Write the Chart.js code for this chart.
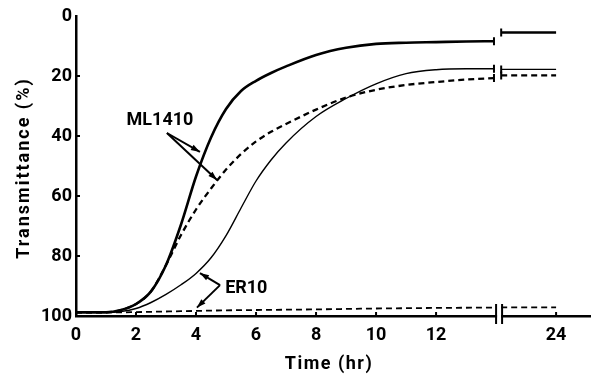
<!DOCTYPE html>
<html>
<head>
<meta charset="utf-8">
<script src="https://cdn.jsdelivr.net/npm/chart.js@4/dist/chart.umd.min.js"></script>
<style>
  html, body { margin: 0; padding: 0; background: #fff; }
  #wrap { width: 591px; height: 377px; }
</style>
</head>
<body>
<div id="wrap"><canvas id="chart" width="591" height="377"></canvas></div>
<script>
// thời gian (giờ) trước chỗ ngắt trục
const hours = [0, 1, 1.5, 2, 2.5, 3, 3.5, 4, 4.5, 5, 5.5, 6, 6.5, 7, 8, 9, 10, 11, 12, 13, 13.93];
// sau chỗ ngắt: 16 trên trục tương ứng 24 giờ
const hoursAfter = [14.17, 16];
const breakAt = 14.05;

const xTicks = [0, 2, 4, 6, 8, 10, 12, 16];
const xTickLabels = ['0', '2', '4', '6', '8', '10', '12', '24'];
const yTicks = [0, 20, 40, 60, 80, 100];

// Transmittance (%)
const mlSolid = [98.8, 98.8, 98, 96, 91.8, 83, 69.5, 53.5, 40.5, 31, 25, 21.6, 19, 16.8, 13, 10.6, 9.3, 8.9, 8.7, 8.5, 8.4];
const mlSolidAfter = [5.5, 5.5];
const mlDashed = [98.8, 98.8, 98, 96, 91.8, 83, 73, 64.5, 57.5, 51.2, 46, 41.8, 38.6, 36, 31.2, 27.2, 24.6, 23, 22, 21.2, 20.7];
const mlDashedAfter = [19.8, 19.8];
const erSolid = [98.8, 98.8, 98.5, 97.5, 95.5, 92.8, 89.6, 85.8, 80.6, 73.2, 64, 55, 48, 42.3, 33.5, 27.5, 22.6, 19.2, 17.9, 17.6, 17.6];
const erSolidAfter = [17.8, 17.8];
const erDashed = [98.8, 98.8, 98.8, 98.7, 98.6, 98.5, 98.4, 98.3, 98.2, 98.1, 98.05, 98, 97.95, 97.9, 97.8, 97.65, 97.5, 97.4, 97.3, 97.25, 97.2];
const erDashedAfter = [97.1, 97.1];

function toPoints(before, after) {
    const pts = hours.map((h, i) => ({ x: h, y: before[i] }));
    pts.push({ x: breakAt, y: null });
    hoursAfter.forEach((h, i) => pts.push({ x: h, y: after[i] }));
    return pts;
}

const FONT = 'Roboto, "DejaVu Sans", sans-serif';

function arrow(ctx, x1, y1, x2, y2) {
    ctx.beginPath();
    ctx.moveTo(x1, y1);
    ctx.lineTo(x2, y2);
    ctx.stroke();
    const a = Math.atan2(y2 - y1, x2 - x1);
    ctx.beginPath();
    ctx.moveTo(x2, y2);
    ctx.lineTo(x2 - 9 * Math.cos(a) + 3 * Math.sin(a), y2 - 9 * Math.sin(a) - 3 * Math.cos(a));
    ctx.lineTo(x2 - 9 * Math.cos(a) - 3 * Math.sin(a), y2 - 9 * Math.sin(a) + 3 * Math.cos(a));
    ctx.closePath();
    ctx.fill();
}

// vẽ vạch chia, chỗ ngắt trục, tiêu đề trục và chú thích
const decorations = {
    id: 'decorations',
    afterDraw(chart) {
        const ctx = chart.ctx;
        const xs = chart.scales.x, ys = chart.scales.y;
        const px = v => xs.getPixelForValue(v);
        const py = v => ys.getPixelForValue(v);
        const area = chart.chartArea;
        ctx.save();
        ctx.strokeStyle = '#000';
        ctx.fillStyle = '#000';

        // vạch chia hướng vào trong
        ctx.lineWidth = 2;
        yTicks.slice(1, 5).forEach(v => {
            ctx.beginPath();
            ctx.moveTo(area.left, py(v));
            ctx.lineTo(area.left + 4, py(v));
            ctx.stroke();
        });
        xTicks.slice(1).forEach(v => {
            ctx.beginPath();
            ctx.moveTo(px(v), area.bottom);
            ctx.lineTo(px(v), area.bottom - 4);
            ctx.stroke();
        });

        // chỗ ngắt trục x
        const b1 = px(14.0), b2 = px(14.2);
        ctx.fillStyle = '#fff';
        ctx.fillRect(b1 + 1, area.bottom - 11, b2 - b1 - 2, 20);
        ctx.fillStyle = '#000';
        ctx.lineWidth = 2;
        [b1, b2].forEach(x => {
            ctx.beginPath();
            ctx.moveTo(x, area.bottom - 12);
            ctx.lineTo(x, area.bottom + 8);
            ctx.stroke();
        });

        // vạch ở đầu mút các đường cong tại chỗ ngắt
        const ends = [[mlSolid, mlSolidAfter], [mlDashed, mlDashedAfter], [erSolid, erSolidAfter]];
        ctx.lineWidth = 2;
        ends.forEach(([before, after]) => {
            const yb = py(before[before.length - 1]);
            const ya = py(after[0]);
            const xb = px(hours[hours.length - 1]);
            const xa = px(hoursAfter[0]);
            ctx.beginPath();
            ctx.moveTo(xb, yb - 4); ctx.lineTo(xb, yb + 4);
            ctx.moveTo(xa, ya - 4); ctx.lineTo(xa, ya + 4);
            ctx.stroke();
        });

        // tiêu đề trục
        ctx.font = 'bold 18px ' + FONT;
        ctx.textAlign = 'center';
        ctx.textBaseline = 'middle';
        ctx.letterSpacing = '1.5px';
        ctx.fillText('Time (hr)', 329, 364);
        ctx.save();
        ctx.translate(24, 168);
        ctx.rotate(-Math.PI / 2);
        ctx.letterSpacing = '2px';
        ctx.fillText('Transmittance (%)', 0, 0);
        ctx.restore();
        ctx.letterSpacing = '0px';

        // chú thích ML1410
        ctx.font = 'bold 18px ' + FONT;
        ctx.fillText('ML1410', px(2.8), py(34.8));
        ctx.lineWidth = 2;
        const mx = px(3.03), my = py(39);
        arrow(ctx, mx, my, px(4.13), py(45.3));
        arrow(ctx, mx, my, px(4.7), py(54.7));

        // chú thích ER10
        ctx.textAlign = 'left';
        ctx.fillText('ER10', px(4.97), py(90.7));
        const ex = px(4.8), ey = py(89.7);
        arrow(ctx, ex, ey, px(4.13), py(85.7));
        arrow(ctx, ex, ey, px(4.03), py(97.2));

        ctx.restore();
    }
};

const tickFont = { family: FONT, size: 18, weight: 'bold' };

new Chart(document.getElementById('chart'), {
    type: 'line',
    data: {
        datasets: [{
            label: 'ML1410',
            data: toPoints(mlSolid, mlSolidAfter),
            borderColor: '#000',
            borderWidth: 2.6
        }, {
            label: 'ML1410 (dashed)',
            data: toPoints(mlDashed, mlDashedAfter),
            borderColor: '#000',
            borderWidth: 2.3,
            borderDash: [6, 4]
        }, {
            label: 'ER10',
            data: toPoints(erSolid, erSolidAfter),
            borderColor: '#000',
            borderWidth: 1.4
        }, {
            label: 'ER10 (dashed)',
            data: toPoints(erDashed, erDashedAfter),
            borderColor: '#000',
            borderWidth: 1.8,
            borderDash: [6, 4]
        }]
    },
    options: {
        responsive: false,
        animation: false,
        devicePixelRatio: 1,
        spanGaps: false,
        elements: {
            point: { radius: 0 },
            line: { cubicInterpolationMode: 'monotone', fill: false }
        },
        layout: { padding: { top: 16, right: 1, left: 0, bottom: 0 } },
        plugins: {
            legend: { display: false },
            tooltip: { enabled: false }
        },
        scales: {
            x: {
                type: 'linear',
                min: 0,
                max: 17.13,
                afterBuildTicks: s => { s.ticks = xTicks.map(v => ({ value: v })); },
                afterFit: s => { s.height = 61; },
                grid: { display: false, drawTicks: false },
                border: { display: true, color: '#000', width: 2.5 },
                ticks: {
                    autoSkip: false,
                    maxRotation: 0,
                    padding: 9,
                    color: '#000',
                    font: tickFont,
                    callback: v => xTickLabels[xTicks.indexOf(v)]
                }
            },
            y: {
                min: 0,
                max: 100,
                reverse: true,
                afterBuildTicks: s => { s.ticks = yTicks.map(v => ({ value: v })); },
                afterFit: s => { s.width = 76; },
                grid: { display: false, drawTicks: false },
                border: { display: true, color: '#000', width: 2.5 },
                ticks: {
                    padding: 4,
                    color: '#000',
                    font: tickFont
                }
            }
        }
    },
    plugins: [decorations]
});
</script>
</body>
</html>
